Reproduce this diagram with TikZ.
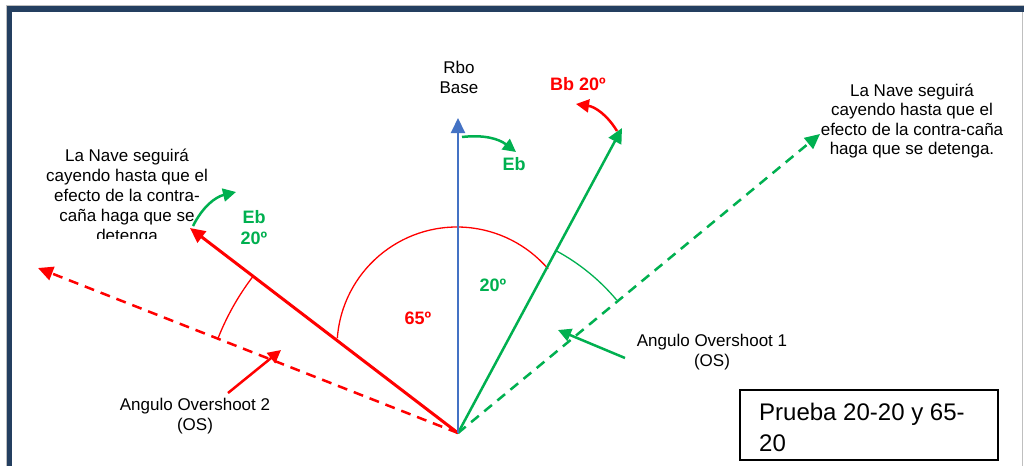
\documentclass[tikz,border=0pt]{standalone}
\usepackage{fontspec}
\setmainfont{Liberation Sans}
\usetikzlibrary{arrows.meta,calc}
\definecolor{frameblue}{HTML}{243F60}
\definecolor{rboblue}{HTML}{4472C4}
\definecolor{okgreen}{HTML}{00B050}
\definecolor{redc}{HTML}{FF0000}
\begin{document}
\begin{tikzpicture}[x=1pt,y=-1pt,
  txt/.style={font=\fontsize{17}{20}\selectfont, align=center, inner sep=0pt},
  lbl/.style={font=\fontsize{18}{21}\selectfont\bfseries, align=center, inner sep=0pt},
  tipA/.style={-{Triangle[length=15pt,width=14pt]}},
  tipB/.style={-{Triangle[length=13pt,width=13pt]}},
  dash2/.style={dash pattern=on 10pt off 7pt},
  anglearc/.style={line width=1.3pt}]
\useasboundingbox (0,0) rectangle (1024,466);
\fill[white] (0,0) rectangle (1024,466);
% frame
\fill[frameblue] (7,6) rectangle (1024,12);
\fill[frameblue] (7,6) rectangle (12,466);
\draw[black!25, line width=0.8pt] (6.4,466) -- (6.4,5.6) -- (1024,5.6);
\draw[black!25, line width=0.8pt] (1022.6,12) -- (1022.6,466);

% key points
\coordinate (O) at (458,433);
\coordinate (C1) at (457,347);
\coordinate (rbo) at (458,118);
\coordinate (gtip) at (622,128);
\coordinate (gdtip) at (820,134);
\coordinate (rtip) at (190,228);
\coordinate (rdtip) at (38,268);

% angle arcs
\draw[redc, anglearc] ($(C1)+(175.7:120pt)$) arc[start angle=175.7, end angle=40.6, radius=120pt];
\draw[okgreen, anglearc] ($(O)+(61.5:207pt)$) arc[start angle=61.5, end angle=40, radius=207pt];
\draw[redc, anglearc] ($(O)+(142.5:258pt)$) arc[start angle=142.5, end angle=158.5, radius=258pt];

% main lines
\draw[redc, line width=2.5pt, dash2, tipA] (O) -- (rdtip);
\draw[okgreen, line width=2.5pt, dash2, tipA] (O) -- (gdtip);
\draw[redc, line width=3pt, tipA] (O) -- (rtip);
\draw[okgreen, line width=2.5pt, tipA] (O) -- (gtip);
\draw[rboblue, line width=2pt, tipA] (O) -- (rbo);

% curved arrows
\coordinate (g1s) at (462,137); \coordinate (g1e) at (516,152);
\coordinate (r1s) at (617,131); \coordinate (r1e) at (576,104);
\coordinate (g2s) at (193,226); \coordinate (g2e) at (236,192);
\draw[okgreen, line width=2.5pt, tipB] (g1s) to[bend left=22] (g1e);
\draw[redc, line width=2.5pt, tipB] (r1s) to[bend right=25] (r1e);
\draw[okgreen, line width=2.5pt, tipB] (g2s) to[bend left=25] (g2e);

% labels
\node[txt] (rbolbl) at (459,77) {Rbo\\Base};
\node[lbl, text=redc] (bb) at (578,84) {Bb 20º};
\node[lbl, text=okgreen] (eb1) at (514,164) {Eb};
\node[lbl, text=okgreen] (eb2) at (254,228) {Eb\\20º};
\node[lbl, text=redc] (l65) at (418,318) {65º};
\node[lbl, text=okgreen] (l20) at (493,285) {20º};

\begin{scope}
\clip (20,140) rectangle (240,238.5);
\node[txt] (leftnote) at (127,197) {La Nave seguirá\\cayendo hasta que el\\efecto de la contra-\\caña haga que se\\detenga};
\end{scope}
\node[txt, font=\fontsize{17}{19.5}\selectfont] (rightnote) at (912,121) {La Nave seguirá\\cayendo hasta que el\\efecto de la contra-caña\\haga que se detenga.};

% overshoot notes
\node[txt] (os2) at (195,416) {Angulo Overshoot 2\\(OS)};
\node[txt] (os1) at (712,352) {Angulo Overshoot 1\\(OS)};
\coordinate (os2s) at (228,393); \coordinate (os2e) at (281,350);
\coordinate (os1s) at (625,358); \coordinate (os1e) at (558,330);
\draw[redc, line width=2.5pt, tipB] (os2s) -- (os2e);
\draw[okgreen, line width=2.5pt, tipB] (os1s) -- (os1e);

% box
\draw[black, line width=1.2pt] (740,390) rectangle (998,460);
\node[font=\fontsize{24}{31}\selectfont, align=left, inner sep=0pt, anchor=north west] (prueba) at (759,403) {Prueba 20-20 y 65-\\20};
\end{tikzpicture}
\end{document}
